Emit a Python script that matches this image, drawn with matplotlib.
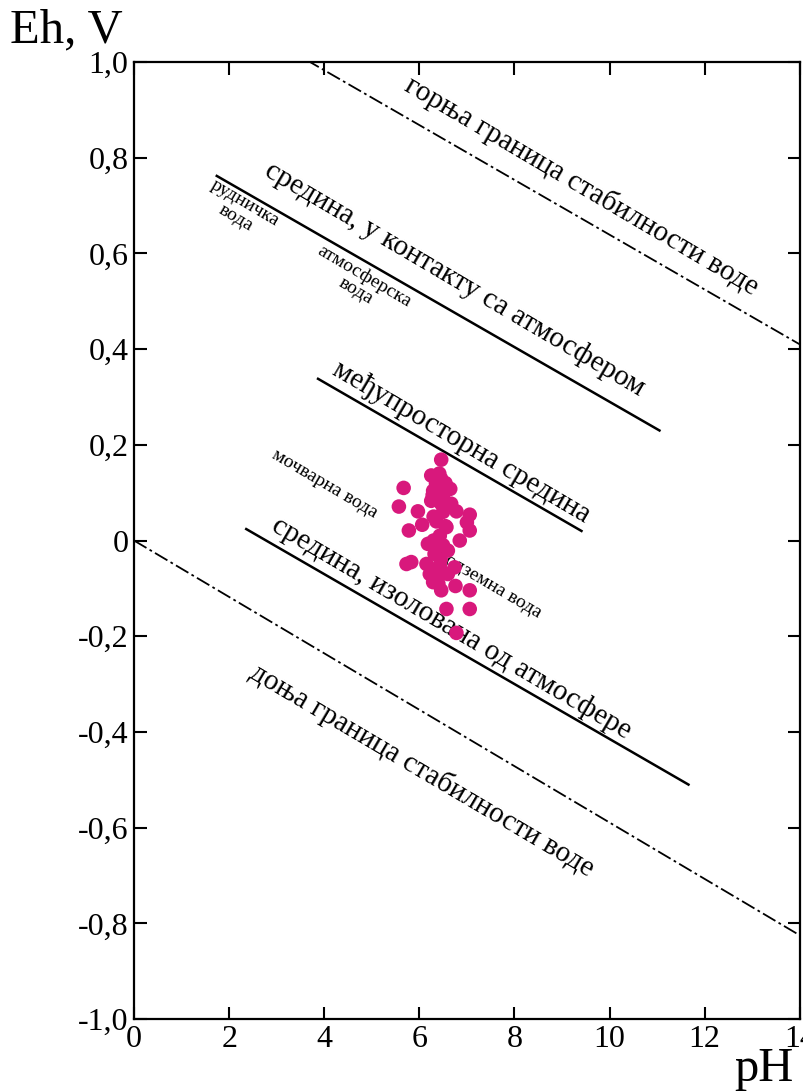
import numpy as np
import matplotlib
matplotlib.use("Agg")
import matplotlib.pyplot as plt

plt.rcParams['font.family'] = ['Liberation Serif', 'DejaVu Serif']

# Границе стабилности воде
ph_bound = [0, 14]
eh_upper = [1.212, 0.41]
eh_lower = [0.0, -0.825]

# Границе средина
ph_atm = [1.74, 11.05]
eh_atm = [0.762, 0.230]
ph_mid = [3.87, 9.41]
eh_mid = [0.338, 0.020]
ph_iso = [2.36, 11.66]
eh_iso = [0.024, -0.510]

# Мерења (pH, Eh)
ph_pts = [6.46, 5.67, 5.57, 5.97, 5.78, 6.06, 6.25, 6.46, 6.29, 6.65,
          6.25, 6.46, 6.67, 6.78, 7.06, 7.00, 7.06, 6.85, 6.57, 6.36,
          6.18, 6.43, 6.60, 6.32, 5.83, 5.73, 6.15, 6.43, 6.74, 6.22,
          6.36, 6.29, 6.46, 6.76, 7.06, 6.57, 7.06, 6.78,
          6.35, 6.55, 6.40, 6.50, 6.30, 6.55, 6.45, 6.50, 6.35, 6.60,
          6.40, 6.30, 6.28, 6.52, 6.42]
eh_pts = [0.169, 0.110, 0.071, 0.061, 0.021, 0.033, 0.136, 0.129, 0.104, 0.108,
          0.083, 0.077, 0.077, 0.061, 0.054, 0.038, 0.021, 0.000, 0.028, 0.040,
          -0.007, 0.010, -0.021, -0.028, -0.045, -0.049, -0.049, -0.052, -0.056, -0.070,
          -0.080, -0.087, -0.104, -0.095, -0.104, -0.143, -0.143, -0.193,
          0.120, 0.120, 0.090, 0.060, 0.050, 0.030, -0.040, -0.010, -0.060, -0.070,
          -0.090, 0.000, 0.095, 0.100, 0.140]

xticks = [0, 2, 4, 6, 8, 10, 12, 14]
yticks = [-1.0, -0.8, -0.6, -0.4, -0.2, 0, 0.2, 0.4, 0.6, 0.8, 1.0]
ylabels = ["-1,0", "-0,8", "-0,6", "-0,4", "-0,2", "0", "0,2", "0,4", "0,6", "0,8", "1,0"]

fig = plt.figure(figsize=(8.04, 10.92), dpi=100)
ax = fig.add_axes([0.1667, 0.0668, 0.828, 0.8764])

dd = (0, (8, 2, 1.5, 2))
ax.plot(ph_bound, eh_upper, color="black", lw=1.3, linestyle=dd)
ax.plot(ph_bound, eh_lower, color="black", lw=1.3, linestyle=dd)
ax.plot(ph_atm, eh_atm, color="black", lw=1.8)
ax.plot(ph_mid, eh_mid, color="black", lw=1.8)
ax.plot(ph_iso, eh_iso, color="black", lw=1.8)

ax.scatter(ph_pts, eh_pts, s=110, color="#d8187c", edgecolors="none", zorder=5)

rot = -30.5
big = 21
small = 14
ax.text(9.41, 0.741, "горња граница стабилности воде", fontsize=big, rotation=rot,
        ha="center", va="center")
ax.text(6.74, 0.547, "средина, у контакту са атмосфером", fontsize=big, rotation=rot,
        ha="center", va="center")
ax.text(2.23, 0.689, "рудничка\nвода", fontsize=small, rotation=rot,
        ha="center", va="center", linespacing=1.0)
ax.text(4.75, 0.537, "атмосферска\nвода", fontsize=small, rotation=rot,
        ha="center", va="center", linespacing=1.0)
ax.text(6.89, 0.205, "међупросторна средина", fontsize=big, rotation=rot,
        ha="center", va="center")
ax.text(4.01, 0.119, "мочварна вода", fontsize=small, rotation=rot,
        ha="center", va="center")
ax.text(7.45, -0.090, "подземна вода", fontsize=small, rotation=rot,
        ha="center", va="center")
ax.text(6.68, -0.182, "средина, изолована од атмосфере", fontsize=big, rotation=rot,
        ha="center", va="center")
ax.text(6.05, -0.480, "доња граница стабилности воде", fontsize=big, rotation=rot,
        ha="center", va="center")

ax.set_xlim(0, 14)
ax.set_ylim(-1.0, 1.0)
ax.set_xticks(xticks)
ax.set_xticklabels([str(t) for t in xticks])
ax.set_yticks(yticks)
ax.set_yticklabels(ylabels)
ax.tick_params(direction="in", length=9, width=1.5, labelsize=23,
               top=True, right=True, pad=4)
for s in ax.spines.values():
    s.set_linewidth(1.6)

fig.text(0.083, 0.972, "Eh, V", fontsize=35, ha="center", va="center")
fig.text(0.950, 0.021, "pH", fontsize=35, ha="center", va="center")

fig.savefig("out.png", dpi=100)
